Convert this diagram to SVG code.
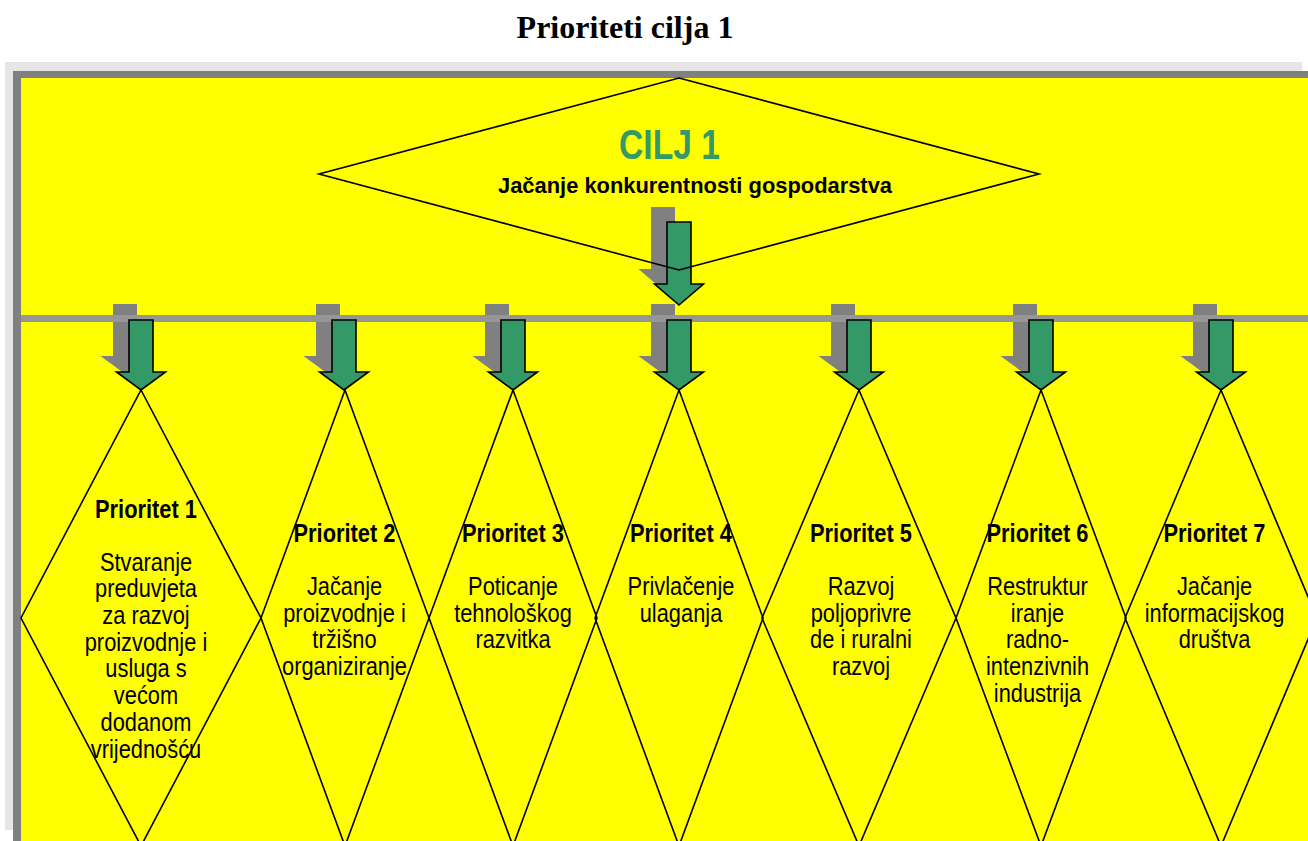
<svg xmlns="http://www.w3.org/2000/svg" width="1308" height="841" viewBox="0 0 1308 841">
<defs>
<style>
.dia{fill:none;stroke:#000;stroke-width:1.6}
.arr{fill:#339966;stroke:#000;stroke-width:1.6;stroke-linejoin:miter}
.shd{fill:#808080}
.t{font-family:"Liberation Sans",Arial,sans-serif;font-size:26px;fill:#000;text-anchor:middle}
.b{font-weight:bold}
</style>
<path id="pa" d="M-12,320 H12 V372 H24.5 L0,390 L-24.5,372 H-12 Z"/>
<path id="ta" d="M667,222 H691 V284 H703.5 L679,305 L654.5,284 H667 Z"/>
</defs>
<rect x="0" y="0" width="1308" height="841" fill="#fff"/>
<text x="625" y="38" font-family="'Liberation Serif','Times New Roman',serif" font-size="32" font-weight="bold" text-anchor="middle" fill="#000">Prioriteti cilja 1</text>
<g id="frame">
<rect x="5" y="62" width="1297" height="768" fill="#e6e6e6"/>
<rect x="13" y="71" width="1295" height="770" fill="#808080"/>
<rect x="21" y="78" width="1287" height="763" fill="#ffff00"/>
</g>
<g id="connectors">
<g class="shd">
<use href="#ta" transform="translate(-16,-15)"/>
<use href="#pa" transform="translate(125,-16)"/>
<use href="#pa" transform="translate(328,-16)"/>
<use href="#pa" transform="translate(497,-16)"/>
<use href="#pa" transform="translate(663,-16)"/>
<use href="#pa" transform="translate(843,-16)"/>
<use href="#pa" transform="translate(1025,-16)"/>
<use href="#pa" transform="translate(1205,-16)"/>
</g>
<rect x="21" y="315" width="1287" height="7" fill="#969696"/>
<g class="arr">
<use href="#ta"/>
<use href="#pa" transform="translate(141,0)"/>
<use href="#pa" transform="translate(344,0)"/>
<use href="#pa" transform="translate(513,0)"/>
<use href="#pa" transform="translate(679,0)"/>
<use href="#pa" transform="translate(859,0)"/>
<use href="#pa" transform="translate(1041,0)"/>
<use href="#pa" transform="translate(1221,0)"/>
</g>
</g>
<g id="cilj1">
<polygon class="dia" points="679,78 1039,174 679,270 319,174"/>
<text x="0" y="159" transform="translate(669.5,0) scale(0.8,1)" class="t b" style="font-size:42px;fill:#339966">CILJ 1</text>
<text x="695" y="192.7" class="t b" style="font-size:22px" textLength="394" lengthAdjust="spacingAndGlyphs">Jačanje konkurentnosti gospodarstva</text>
</g>
<g id="p1">
<polygon class="dia" points="141,390 261,618 141,846 21,618"/>
<g transform="translate(146,0) scale(0.84,1)">
<text class="t b" x="0" y="517.7">Prioritet 1</text>
<text class="t" x="0" y="570.7">Stvaranje</text>
<text class="t" x="0" y="597.4">preduvjeta</text>
<text class="t" x="0" y="624.1">za razvoj</text>
<text class="t" x="0" y="650.8">proizvodnje i</text>
<text class="t" x="0" y="677.5">usluga s</text>
<text class="t" x="0" y="704.2">većom</text>
<text class="t" x="0" y="730.9">dodanom</text>
<text class="t" x="0" y="757.6">vrijednošću</text>
</g>
</g>
<g id="p2">
<polygon class="dia" points="345,390 429,618 345,846 261,618"/>
<g transform="translate(344.5,0) scale(0.84,1)">
<text class="t b" x="0" y="541.7">Prioritet 2</text>
<text class="t" x="0" y="595">Jačanje</text>
<text class="t" x="0" y="621.7">proizvodnje i</text>
<text class="t" x="0" y="648.4">tržišno</text>
<text class="t" x="0" y="675.1">organiziranje</text>
</g>
</g>
<g id="p3">
<polygon class="dia" points="513,390 597,618 513,846 429,618"/>
<g transform="translate(513,0) scale(0.84,1)">
<text class="t b" x="0" y="541.7">Prioritet 3</text>
<text class="t" x="0" y="595">Poticanje</text>
<text class="t" x="0" y="621.7">tehnološkog</text>
<text class="t" x="0" y="648.4">razvitka</text>
</g>
</g>
<g id="p4">
<polygon class="dia" points="679,390 763,618 679,846 595,618"/>
<g transform="translate(681,0) scale(0.84,1)">
<text class="t b" x="0" y="541.7">Prioritet 4</text>
<text class="t" x="0" y="595">Privlačenje</text>
<text class="t" x="0" y="621.7">ulaganja</text>
</g>
</g>
<g id="p5">
<polygon class="dia" points="859,390 956,618 859,846 762,618"/>
<g transform="translate(861,0) scale(0.84,1)">
<text class="t b" x="0" y="541.7">Prioritet 5</text>
<text class="t" x="0" y="595">Razvoj</text>
<text class="t" x="0" y="621.7">poljoprivre</text>
<text class="t" x="0" y="648.4">de i ruralni</text>
<text class="t" x="0" y="675.1">razvoj</text>
</g>
</g>
<g id="p6">
<polygon class="dia" points="1041,390 1126,618 1041,846 956,618"/>
<g transform="translate(1037.5,0) scale(0.84,1)">
<text class="t b" x="0" y="541.7">Prioritet 6</text>
<text class="t" x="0" y="595">Restruktur</text>
<text class="t" x="0" y="621.7">iranje</text>
<text class="t" x="0" y="648.4">radno-</text>
<text class="t" x="0" y="675.1">intenzivnih</text>
<text class="t" x="0" y="701.8">industrija</text>
</g>
</g>
<g id="p7">
<polygon class="dia" points="1221,390 1317,618 1221,846 1125,618"/>
<g transform="translate(1214.5,0) scale(0.84,1)">
<text class="t b" x="0" y="541.7">Prioritet 7</text>
<text class="t" x="0" y="595">Jačanje</text>
<text class="t" x="0" y="621.7">informacijskog</text>
<text class="t" x="0" y="648.4">društva</text>
</g>
</g>
</svg>
